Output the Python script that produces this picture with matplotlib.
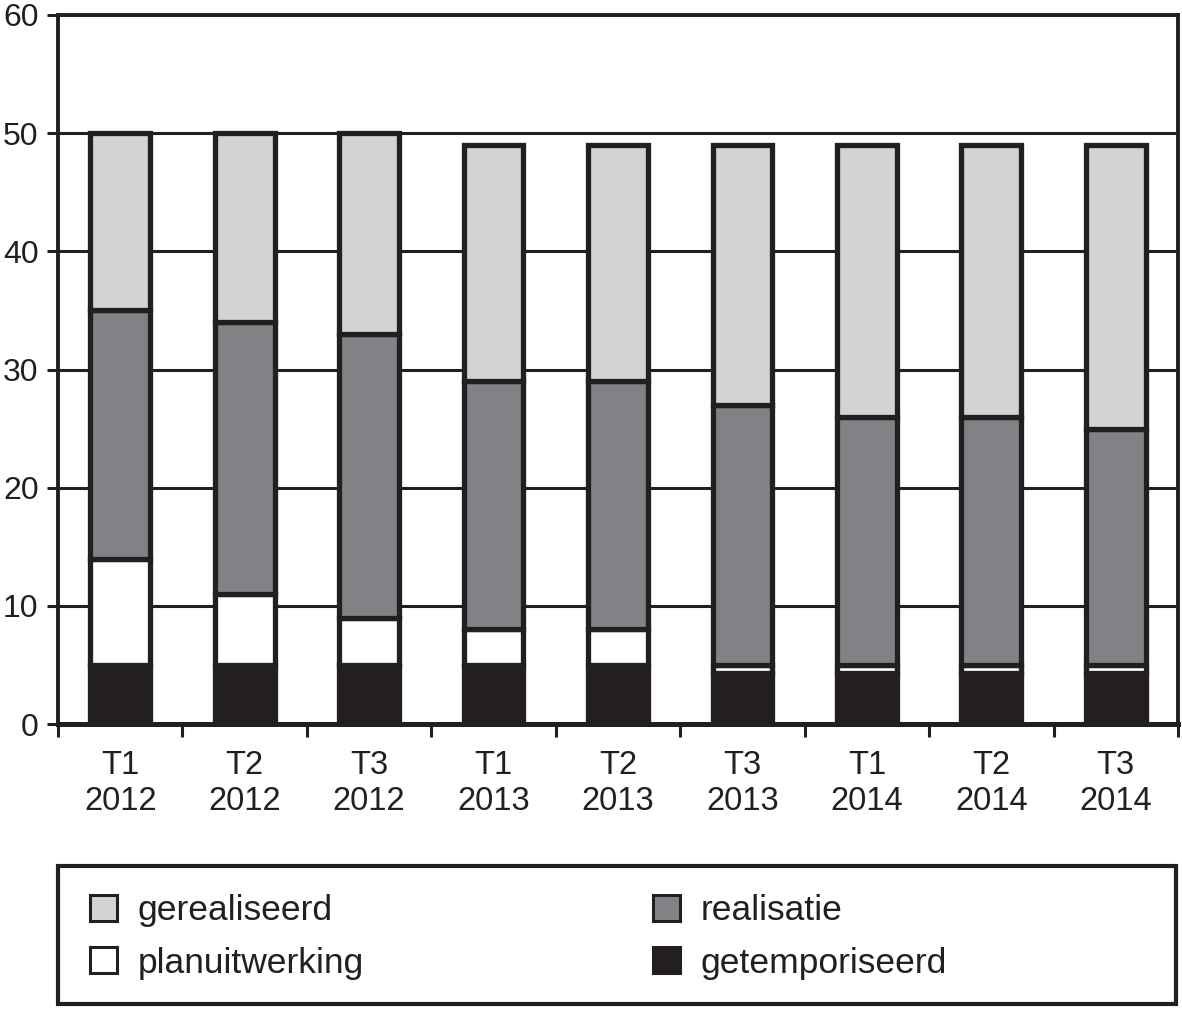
import matplotlib
matplotlib.use('Agg')
from matplotlib import pyplot as plt
from matplotlib.patches import Patch, Rectangle
import numpy as np

# ----- data ----- #
categories = ['T1\n2012', 'T2\n2012', 'T3\n2012',
              'T1\n2013', 'T2\n2013', 'T3\n2013',
              'T1\n2014', 'T2\n2014', 'T3\n2014']
getemporiseerd = [5, 5, 5, 5, 5, 4.3, 4.3, 4.3, 4.3]
planuitwerking = [9, 6, 4, 3, 3, 0.7, 0.7, 0.7, 0.7]
realisatie = [21, 23, 24, 21, 21, 22, 21, 21, 20]
gerealiseerd = [15, 16, 17, 20, 20, 22, 23, 23, 24]
yticks = [0, 10, 20, 30, 40, 50, 60]

ink = '#231f20'
colors = {'gerealiseerd': '#d1d3d4', 'realisatie': '#818285',
          'planuitwerking': '#ffffff', 'getemporiseerd': ink}

plt.rcParams['font.family'] = ['Liberation Sans', 'DejaVu Sans']
plt.rcParams['text.color'] = ink

W, H = 1182, 1009
fig = plt.figure(figsize=(W / 100, H / 100), dpi=100)
ax = fig.add_axes([58 / W, 1 - 724 / H, (1178 - 58) / W, (724 - 15) / H])

x = np.arange(len(categories))
series = [('getemporiseerd', getemporiseerd),
          ('planuitwerking', planuitwerking),
          ('realisatie', realisatie),
          ('gerealiseerd', gerealiseerd)]
bottom = np.zeros(len(categories))
for name, vals in series:
    ax.bar(x, vals, bottom=bottom, width=0.48, color=colors[name],
           edgecolor=ink, linewidth=3.8, zorder=3)
    bottom += np.array(vals)

# ----- 軸 ----- #
ax.set_xlim(-0.5, len(categories) - 0.5)
ax.set_ylim(0, 60)
ax.set_yticks(yticks)
ax.yaxis.grid(True, color=ink, linewidth=2.2, zorder=0)
ax.set_axisbelow(True)
ax.tick_params(axis='y', length=8, width=2.2, color=ink, labelsize=23,
               labelcolor=ink, pad=6)
ax.set_xticks(x)
ax.set_xticklabels(categories, fontsize=23.5, color=ink, linespacing=1.2)
ax.set_xticks(np.arange(len(categories) + 1) - 0.5, minor=True)
ax.tick_params(axis='x', which='major', length=0, pad=19)
ax.tick_params(axis='x', which='minor', length=9, width=2.2, color=ink)
for s in ax.spines.values():
    s.set_color(ink)
    s.set_linewidth(2.8)
ax.spines['bottom'].set_linewidth(3.6)

# ----- 凡例 ----- #
fig.patches.append(Rectangle((58 / W, 5 / H), (1176 - 58) / W, 138 / H,
                             transform=fig.transFigure, fill=False,
                             edgecolor=ink, linewidth=3, zorder=5))

def handle(name):
    return Patch(facecolor=colors[name], edgecolor=ink, linewidth=2.2, label=name)

leg_kw = dict(frameon=False, fontsize=25.5, handlelength=0.75, handleheight=0.75,
              handletextpad=0.6, labelspacing=0.55, loc='center left',
              borderpad=0, borderaxespad=0)
l1 = fig.legend(handles=[handle('gerealiseerd'), handle('planuitwerking')],
                bbox_to_anchor=(90 / W, 1 - 937 / H), **leg_kw)
l2 = fig.legend(handles=[handle('realisatie'), handle('getemporiseerd')],
                bbox_to_anchor=(653 / W, 1 - 937 / H), **leg_kw)

fig.savefig('out.png', dpi=100)
